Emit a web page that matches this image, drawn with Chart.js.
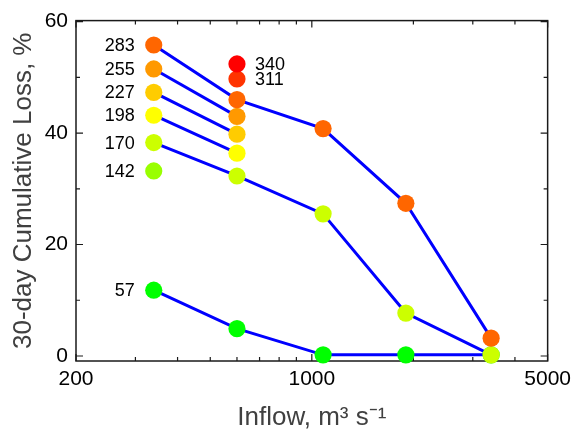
<!DOCTYPE html>
<html><head><meta charset="utf-8">
<script src="https://cdn.jsdelivr.net/npm/chart.js@4/dist/chart.umd.min.js"></script>
<style>html,body{margin:0;padding:0;background:#fff}#wrap{width:577px;height:432px;position:relative}</style>
</head><body><div id="wrap"><canvas id="c"></canvas></div>
<script>
// Inflow (m3/s) for each measurement column
const inflow = [340, 600, 1080, 1900, 3400];
// Series names (shown as labels beside the first point of each series)
const seriesNames = ['340', '311', '283', '255', '227', '198', '170', '142', '57'];
// 30-day cumulative loss (%) per series, aligned with inflow (null = no measurement)
const loss340 = [null, 52.4, null, null, null];
const loss311 = [null, 49.7, null, null, null];
const loss283 = [55.8, 46.0, 40.8, 27.4, 3.2];
const loss255 = [51.5, 43.0, null, null, null];
const loss227 = [47.3, 39.8, null, null, null];
const loss198 = [43.2, 36.4, null, null, null];
const loss170 = [38.3, 32.3, 25.5, 7.7, 0.2];
const loss142 = [33.2, null, null, null, null];
const loss57 = [11.8, 4.9, 0.2, 0.2, 0.2];
const seriesValues = [loss340, loss311, loss283, loss255, loss227, loss198, loss170, loss142, loss57];
const seriesColors = ['#ff0000', '#ff3300', '#ff6600', '#ff9900', '#ffcc00', '#ffff00', '#ccff00', '#99ff00', '#00ff00'];
// Axis tick labels
const xTickLabels = [200, 1000, 5000];
const xMinorTicks = [300, 400, 500, 600, 700, 800, 900, 2000, 3000, 4000];
const yTickLabels = [0, 20, 40, 60];
const yMinorTicks = [10, 30, 50];

const FONT = "'Liberation Sans', Arial, Helvetica, sans-serif";

function toPoints(vals) {
  return vals.map((v, i) => v === null ? null : { x: inflow[i], y: v }).filter(p => p !== null);
}

const datasets = [];
seriesValues.forEach((vals, k) => {
  const pts = toPoints(vals);
  if (pts.length > 1) {
    datasets.push({
      label: seriesNames[k] + ' line', data: pts, showLine: true,
      borderColor: '#0000ff', borderWidth: 3, pointRadius: 0, pointHoverRadius: 0,
      fill: false, tension: 0, order: 20, clip: false
    });
  }
});
// points drawn above lines; series later in the list sit lower
seriesValues.forEach((vals, k) => {
  datasets.push({
    label: seriesNames[k], data: toPoints(vals), showLine: false,
    backgroundColor: seriesColors[k], borderColor: seriesColors[k], borderWidth: 0,
    pointRadius: 8.6, pointHoverRadius: 8.6, order: 1 + k, clip: false
  });
});

const frameTicks = {
  id: 'frameTicks',
  beforeDatasetsDraw(chart) {
    const { ctx, chartArea: a, scales: { x, y } } = chart;
    ctx.save();
    ctx.strokeStyle = '#1a1a1a';
    ctx.lineWidth = 1.5;
    ctx.strokeRect(a.left, a.top, a.right - a.left, a.bottom - a.top);
    ctx.lineWidth = 1.2;
    ctx.beginPath();
    const yt = (v, len) => {
      const py = y.getPixelForValue(v);
      ctx.moveTo(a.left, py); ctx.lineTo(a.left + len, py);
      ctx.moveTo(a.right, py); ctx.lineTo(a.right - len, py);
    };
    yTickLabels.forEach(v => yt(v, 7));
    yMinorTicks.forEach(v => yt(v, 4));
    const xt = (v, len) => {
      const px = x.getPixelForValue(v);
      ctx.moveTo(px, a.bottom); ctx.lineTo(px, a.bottom - len);
      ctx.moveTo(px, a.top); ctx.lineTo(px, a.top + len);
    };
    xTickLabels.forEach(v => xt(v, 7));
    xMinorTicks.forEach(v => xt(v, 4));
    ctx.stroke();
    ctx.restore();
  },
  afterDatasetsDraw(chart) {
    const { ctx, scales: { x, y } } = chart;
    ctx.save();
    ctx.font = '18px ' + FONT;
    ctx.fillStyle = '#000';
    ctx.textBaseline = 'middle';
    seriesValues.forEach((vals, k) => {
      const i = vals.findIndex(v => v !== null);
      const px = x.getPixelForValue(inflow[i]);
      const py = y.getPixelForValue(vals[i]);
      if (i === 0) { ctx.textAlign = 'right'; ctx.fillText(seriesNames[k], px - 19, py + 1); }
      else { ctx.textAlign = 'left'; ctx.fillText(seriesNames[k], px + 18, py + 1); }
    });
    ctx.restore();
  }
};

new Chart(document.getElementById('c'), {
  type: 'scatter',
  data: { datasets },
  options: {
    responsive: true, maintainAspectRatio: false, animation: false,
    devicePixelRatio: 1,
    events: [],
    layout: { padding: { top: 19, right: 26, left: 0, bottom: 0 } },
    plugins: { legend: { display: false }, tooltip: { enabled: false } },
    scales: {
      x: {
        type: 'logarithmic', min: 200, max: 5000,
        grid: { display: false, drawTicks: false }, border: { display: false },
        afterBuildTicks: s => { s.ticks = xTickLabels.map(v => ({ value: v })); },
        afterFit: s => { s.height = 71; },
        ticks: { autoSkip: false, maxRotation: 0, padding: 6, color: '#000',
          font: { family: FONT, size: 21 }, callback: v => String(v) },
        title: { display: true, text: 'Inflow, m³ s⁻¹', color: '#404040',
          font: { family: FONT, size: 26, lineHeight: 1.1 }, padding: { top: 0, bottom: 0 } }
      },
      y: {
        type: 'linear', min: -0.9, max: 60.18,
        grid: { display: false, drawTicks: false }, border: { display: false },
        afterBuildTicks: s => { s.ticks = yTickLabels.map(v => ({ value: v })); },
        afterFit: s => { s.width = 76; },
        ticks: { padding: 8, color: '#000', font: { family: FONT, size: 21 }, callback: v => String(v) },
        title: { display: true, text: '30-day Cumulative Loss, %', color: '#404040',
          font: { family: FONT, size: 26, lineHeight: 1.2 }, padding: { top: 8, bottom: 0 } }
      }
    }
  },
  plugins: [frameTicks]
});
</script></body></html>
